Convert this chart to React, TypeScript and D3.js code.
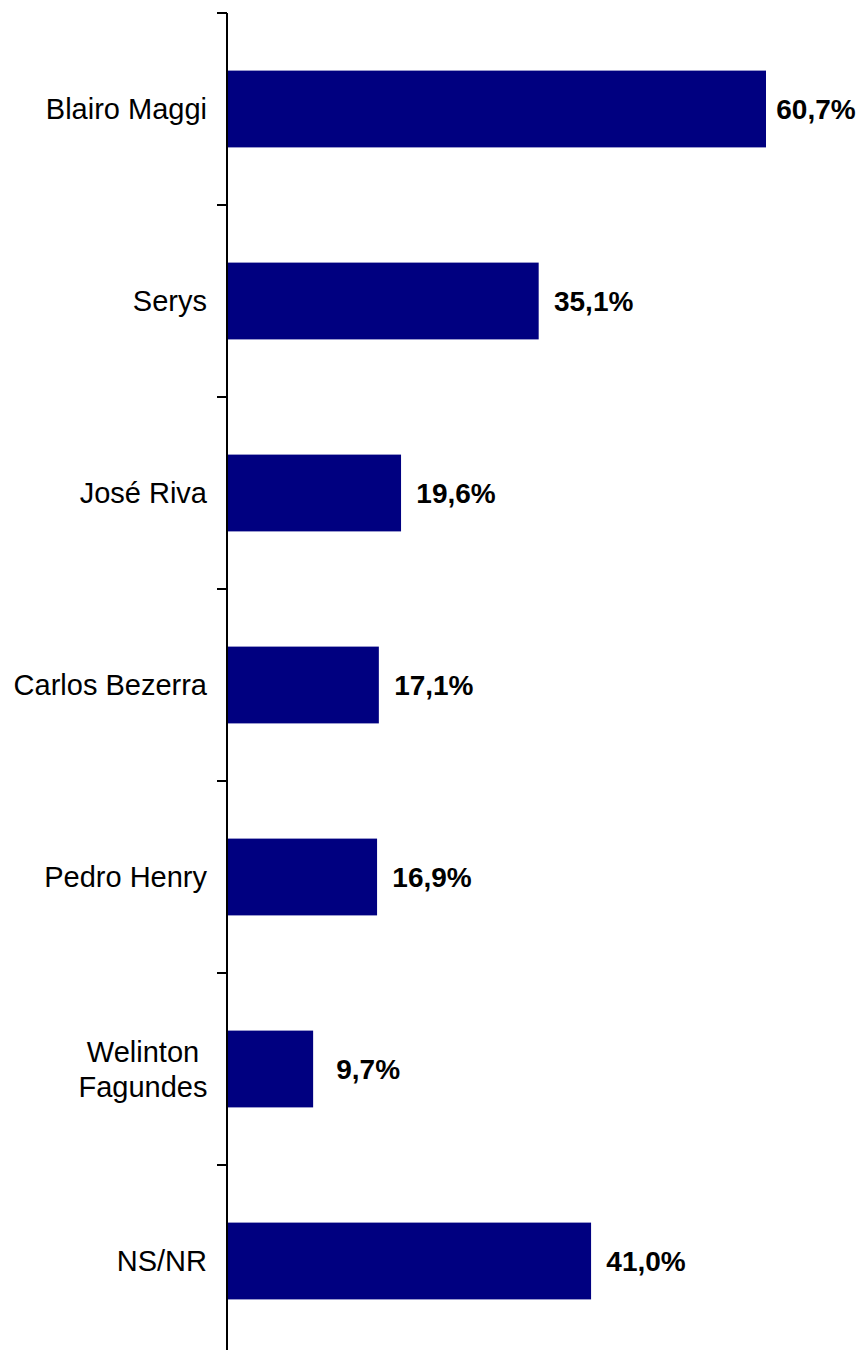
import React from "react";
import * as d3 from "d3";

const categories = [
  ["Blairo Maggi"],
  ["Serys"],
  ["José Riva"],
  ["Carlos Bezerra"],
  ["Pedro Henry"],
  ["Welinton", "Fagundes"],
  ["NS/NR"],
];
const values = [60.7, 35.1, 19.6, 17.1, 16.9, 9.7, 41.0];
const valueLabels = ["60,7%", "35,1%", "19,6%", "17,1%", "16,9%", "9,7%", "41,0%"];

const W = 860;
const H = 1350;
const axisX = 227;

export default function App() {
  const keys = categories.map((c) => c.join(" "));
  const y = d3
    .scaleBand<string>()
    .domain(keys)
    .range([13, 13 + 7 * 192])
    .paddingInner(0.6)
    .paddingOuter(0.3);
  const x = d3.scaleLinear().domain([0, 60.7]).range([axisX, 766]);
  const step = y.step();
  const ticks = keys.map((k) => (y(k) as number) - step * 0.3).concat([y.range()[1]]);
  const font = "Arial, 'Liberation Sans', sans-serif";

  return (
    <div style={{ position: "absolute", left: 0, top: 0 }}>
      <svg width={W} height={H} style={{ display: "block" }}>
        <rect width={W} height={H} fill="#ffffff" />
        {keys.map((k, i) => (
          <rect
            key={k}
            x={x(0)}
            y={y(k)}
            width={x(values[i]) - x(0)}
            height={y.bandwidth()}
            fill="#000080"
          />
        ))}
        <line x1={axisX} x2={axisX} y1={ticks[0]} y2={ticks[ticks.length - 1]} stroke="#000" strokeWidth={2} />
        {ticks.map((t, i) => (
          <line key={i} x1={axisX - 10} x2={axisX} y1={t} y2={t} stroke="#000" strokeWidth={2} />
        ))}
        {categories.map((lines, i) => {
          const cy = (y(keys[i]) as number) + y.bandwidth() / 2;
          if (lines.length === 1) {
            return (
              <text key={i} x={207} y={cy} dy="0.36em" textAnchor="end" fontFamily={font} fontSize={29} fill="#000">
                {lines[0]}
              </text>
            );
          }
          const lh = 35;
          return (
            <text key={i} x={143} y={cy} textAnchor="middle" fontFamily={font} fontSize={29} fill="#000">
              {lines.map((l, j) => (
                <tspan key={j} x={143} y={cy + (j - (lines.length - 1) / 2) * lh} dy="0.36em">
                  {l}
                </tspan>
              ))}
            </text>
          );
        })}
        {keys.map((k, i) => (
          <text
            key={k}
            x={Math.min(x(values[i]) + 55, 816)}
            y={(y(k) as number) + y.bandwidth() / 2}
            dy="0.36em"
            textAnchor="middle"
            fontFamily={font}
            fontSize={28}
            fontWeight="bold"
            fill="#000"
          >
            {valueLabels[i]}
          </text>
        ))}
      </svg>
    </div>
  );
}
